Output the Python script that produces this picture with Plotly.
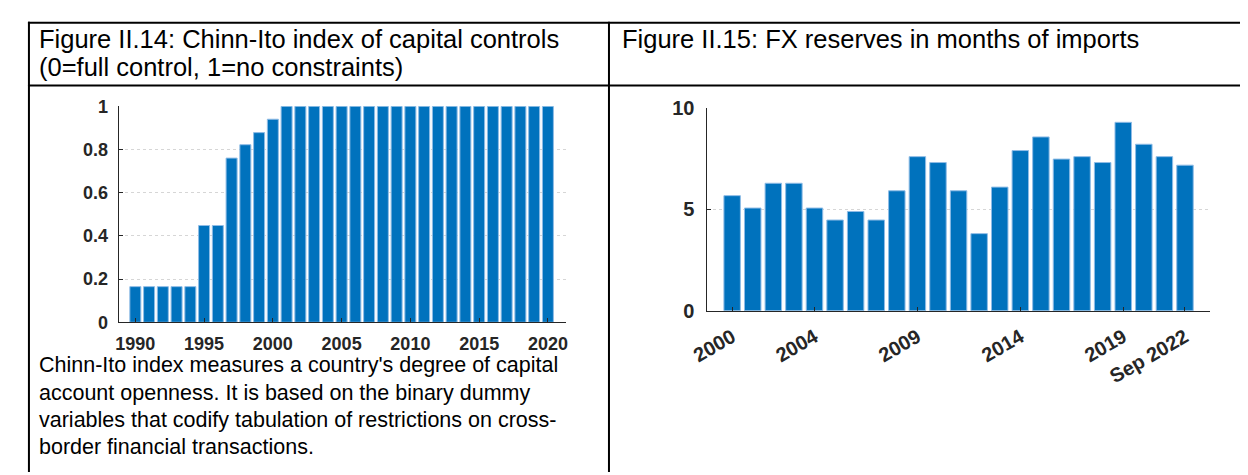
#!/usr/bin/env python3
"""
Chinn-Ito index and FX reserves, two panel table figure
"""

import plotly.graph_objects as go

# Data
chinn_ito_years = list(range(1990, 2021))
chinn_ito_values = [0.165] * 5 + [0.448, 0.448, 0.76, 0.822, 0.878, 0.94] + [1.0] * 20

reserve_labels = [str(y) for y in range(2000, 2022)] + ["Sep 2022"]
reserve_months = [
    5.67, 5.06, 6.28, 6.28, 5.06, 4.47, 4.89, 4.47, 5.91, 7.59, 7.30, 5.91,
    3.80, 6.09, 7.89, 8.56, 7.47, 7.59, 7.30, 9.28, 8.20, 7.59, 7.17,
]
reserve_tick_labels = ["2000", "2004", "2009", "2014", "2019", "Sep 2022"]

header_left = ["Figure II.14: Chinn-Ito index of capital controls", "(0=full control, 1=no constraints)"]
header_right = "Figure II.15: FX reserves in months of imports"
caption_lines = [
    "Chinn-Ito index measures a country's degree of capital",
    "account openness. It is based on the binary dummy",
    "variables that codify tabulation of restrictions on cross-",
    "border financial transactions.",
]

W, H = 1248, 475
OFFSET = 8  # page body margin
BLUE = "#0072BD"
EDGE = "#8fbce6"
INK = "#262626"
TEXT_FONT = "Liberation Sans"


def px_x(x):
    return (x - OFFSET) / W


def px_y(y):
    return 1 - (y - OFFSET) / H


def axis_style(size):
    return dict(
        showline=True,
        linecolor=INK,
        linewidth=1,
        ticks="inside",
        ticklen=4,
        tickcolor=INK,
        tickfont=dict(family=TEXT_FONT, size=size, color=INK, weight="bold"),
        zeroline=False,
    )


figure = go.Figure()
figure.add_trace(
    go.Bar(
        x=chinn_ito_years,
        y=chinn_ito_values,
        marker=dict(color=BLUE, line=dict(color=EDGE, width=1)),
        xaxis="x",
        yaxis="y",
    )
)
figure.add_trace(
    go.Bar(
        x=reserve_labels,
        y=reserve_months,
        marker=dict(color=BLUE, line=dict(color=EDGE, width=1)),
        xaxis="x2",
        yaxis="y2",
    )
)

figure.update_layout(
    width=W,
    height=H,
    margin=dict(l=0, r=0, t=0, b=0),
    paper_bgcolor="white",
    plot_bgcolor="white",
    showlegend=False,
    bargap=0.2,
    xaxis=dict(
        domain=[px_x(103), px_x(557)],
        range=[1988.78, 2021.29],
        tickvals=list(range(1990, 2021, 5)),
        showgrid=False,
        anchor="y",
        ticklabelstandoff=5,
        **axis_style(18),
    ),
    yaxis=dict(
        domain=[px_y(326), px_y(99.5)],
        range=[0, 1],
        tickvals=[0, 0.2, 0.4, 0.6, 0.8, 1],
        ticktext=["0", "0.2", "0.4", "0.6", "0.8", "1"],
        showgrid=True,
        gridcolor="#d6d6d6",
        griddash="dot",
        anchor="x",
        ticklabelstandoff=6,
        **axis_style(18),
    ),
    xaxis2=dict(
        domain=[px_x(701), px_x(1211)],
        type="category",
        categoryorder="array",
        categoryarray=reserve_labels,
        range=[-1.2, 23.2],
        tickvals=reserve_tick_labels,
        ticktext=reserve_tick_labels,
        tickangle=-30,
        showgrid=False,
        anchor="y2",
        ticklabelstandoff=6,
        **axis_style(20),
    ),
    yaxis2=dict(
        domain=[px_y(314), px_y(101)],
        range=[0, 10],
        tickvals=[0, 5, 10],
        showgrid=True,
        gridcolor="#d6d6d6",
        griddash="dot",
        anchor="x2",
        ticklabelstandoff=8,
        **axis_style(20),
    ),
)

# table borders
table_lines = [
    (11, 12, W + OFFSET, 12),
    (11, 77.7, W + OFFSET, 77.7),
    (12, 11, 12, H + OFFSET),
    (601, 11, 601, H + OFFSET),
]
for x0, y0, x1, y1 in table_lines:
    figure.add_shape(
        type="line",
        xref="paper",
        yref="paper",
        x0=px_x(x0),
        y0=px_y(y0),
        x1=px_x(x1),
        y1=px_y(y1),
        line=dict(color="black", width=2),
    )


def add_text(text, x, y, size):
    figure.add_annotation(
        text=text,
        xref="paper",
        yref="paper",
        x=px_x(x),
        y=px_y(y),
        xanchor="left",
        yanchor="middle",
        showarrow=False,
        font=dict(family=TEXT_FONT, size=size, color="black"),
    )


add_text(header_left[0], 20, 29, 25.5)
add_text(header_left[1], 20, 58, 25.5)
add_text(header_right, 612, 29, 25.5)
for i, line in enumerate(caption_lines):
    add_text(line, 20, 371 + i * 28.7, 21.5)

figure.write_html("out.html")
